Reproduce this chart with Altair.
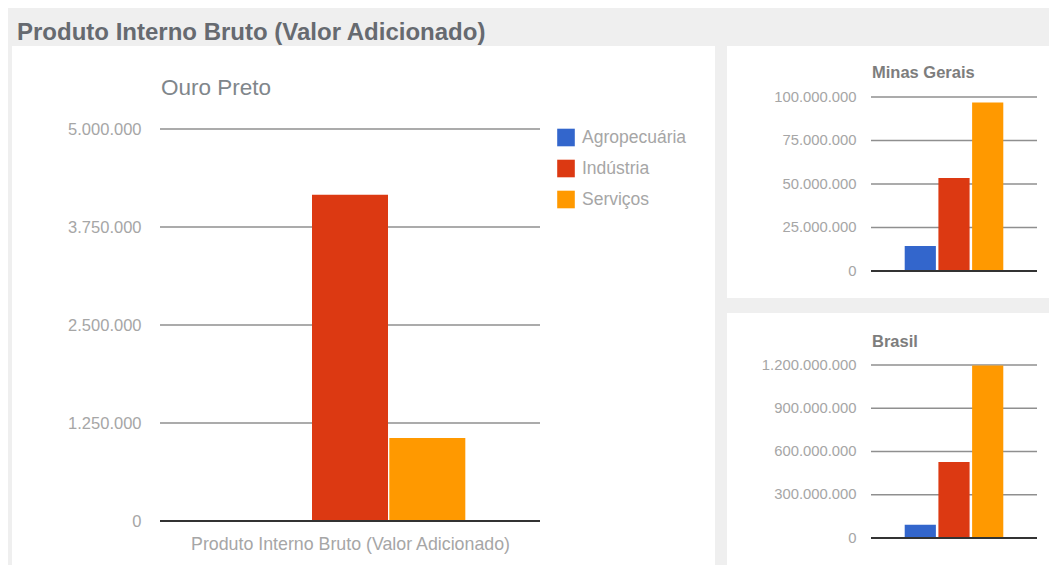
import altair as alt
import pandas as pd

# ---------------- data ----------------
setores = ["Agropecuária", "Indústria", "Serviços"]
cores = ["#3366cc", "#dc3912", "#ff9900"]

ouro_preto = [6000, 4160000, 1060000]
minas_gerais = [14400000, 53400000, 96800000]
brasil = [92000000, 528000000, 1197000000]

ticks_op = [0, 1250000, 2500000, 3750000, 5000000]
ticks_mg = [0, 25000000, 50000000, 75000000, 100000000]
ticks_br = [0, 300000000, 600000000, 900000000, 1200000000]

titulo_geral = "Produto Interno Bruto (Valor Adicionado)"
titulo_op = "Ouro Preto"
titulo_mg = "Minas Gerais"
titulo_br = "Brasil"
categoria = "Produto Interno Bruto (Valor Adicionado)"

FONT = "Liberation Sans, Arial, sans-serif"
LABEL_EXPR = ("replace(replace(replace(format(datum.value, ','), ',', '.'), "
              "',', '.'), ',', '.')")
GRID_COLOR = "#8f8f8f"
TEXT_GRAY = "#a6a6a6"
BG_GRAY = "#efefef"

color_scale = alt.Scale(domain=setores, range=cores)
one = pd.DataFrame({"a": [0]})


def box(x1, x2, y1, y2, color):
    return alt.Chart(one).mark_rect(color=color).encode(
        x=alt.value(x1), x2=alt.value(x2), y=alt.value(y1), y2=alt.value(y2)
    )


def label(text, x, y, size, weight, color):
    return alt.Chart(one).mark_text(
        text=text, align="left", baseline="alphabetic", font=FONT,
        fontSize=size, fontWeight=weight, color=color,
    ).encode(x=alt.value(x), y=alt.value(y))


def panel(values, ticks, w, h, y_top, decor, texts, label_size, label_pad,
          x_pad_inner, x_pad_outer, show_legend=False, x_title=None):
    df = pd.DataFrame({"setor": setores, "valor": values})
    grid_df = pd.DataFrame({"v": ticks[1:]})
    zero_df = pd.DataFrame({"v": [0]})
    yscale = alt.Scale(domain=[ticks[0], y_top], nice=False, zero=True)
    yaxis = alt.Axis(values=ticks, labelExpr=LABEL_EXPR, grid=False,
                     domain=False, ticks=False, title=None,
                     labelFont=FONT, labelFontSize=label_size,
                     labelColor=TEXT_GRAY, labelPadding=label_pad, zindex=1)

    grid = alt.Chart(grid_df).mark_rule(color=GRID_COLOR, strokeWidth=1.6).encode(
        y=alt.Y("v:Q", scale=yscale, axis=yaxis)
    )
    if x_title:
        xaxis = alt.Axis(labels=False, ticks=False, domain=False, title=x_title,
                         titleFont=FONT, titleFontSize=17.8, titleFontWeight="normal",
                         titleColor=TEXT_GRAY, titlePadding=14, zindex=1)
    else:
        xaxis = None
    legend = None
    if show_legend:
        legend = alt.Legend(orient="none", legendX=397, legendY=31.5, title=None,
                            symbolType="square", symbolSize=310, symbolStrokeWidth=0,
                            labelFont=FONT, labelFontSize=17.5, labelColor=TEXT_GRAY,
                            labelOffset=7, rowPadding=13)
    bars = alt.Chart(df).mark_bar().encode(
        x=alt.X("setor:N", sort=setores,
                scale=alt.Scale(paddingInner=x_pad_inner, paddingOuter=x_pad_outer),
                axis=xaxis),
        y=alt.Y("valor:Q", scale=yscale, axis=yaxis),
        color=alt.Color("setor:N", scale=color_scale, sort=setores, legend=legend),
    )
    base = alt.Chart(zero_df).mark_rule(color="#333333", strokeWidth=1.8).encode(
        y=alt.Y("v:Q", scale=yscale, axis=yaxis)
    )
    layers = decor + [grid, bars, base] + texts
    return alt.layer(*layers).properties(width=w, height=h)


# main plot area is 424 px tall; the 5.000.000 line sits 392 px above zero
main = panel(
    ouro_preto, ticks_op, 380, 424, ticks_op[-1] * 424 / 392,
    decor=[box(-148, 555, -85, -51, BG_GRAY), box(-148, 555, -51, 475, "white")],
    texts=[label(titulo_geral, -143, -57, 24, "bold", "#666a70"),
           label(titulo_op, 1, -2, 22.5, "normal", "#80868b")],
    label_size=16.5, label_pad=19, x_pad_inner=0.017, x_pad_outer=0.966,
    show_legend=True, x_title=categoria)

mg = panel(
    minas_gerais, ticks_mg, 166, 174, ticks_mg[-1],
    decor=[box(-144, 178, -85, -51, BG_GRAY), box(-144, 178, -51, 201, "white")],
    texts=[label(titulo_mg, 1, -19, 16.5, "bold", "#7d7d7d")],
    label_size=14.8, label_pad=15, x_pad_inner=0.075, x_pad_outer=1.0)

br = panel(
    brasil, ticks_br, 166, 173, ticks_br[-1],
    decor=[box(-144, 178, -52, 210, "white")],
    texts=[label(titulo_br, 1, -18, 16.5, "bold", "#7d7d7d")],
    label_size=14.8, label_pad=15, x_pad_inner=0.075, x_pad_outer=1.0)

chart = alt.hconcat(main, alt.vconcat(mg, br, spacing=15), spacing=12).properties(
    background=BG_GRAY,
    padding={"left": 4, "top": 4, "right": 0, "bottom": 0},
).configure_view(stroke=None)

chart.save("out.html", embed_options={"renderer": "svg", "actions": False})
